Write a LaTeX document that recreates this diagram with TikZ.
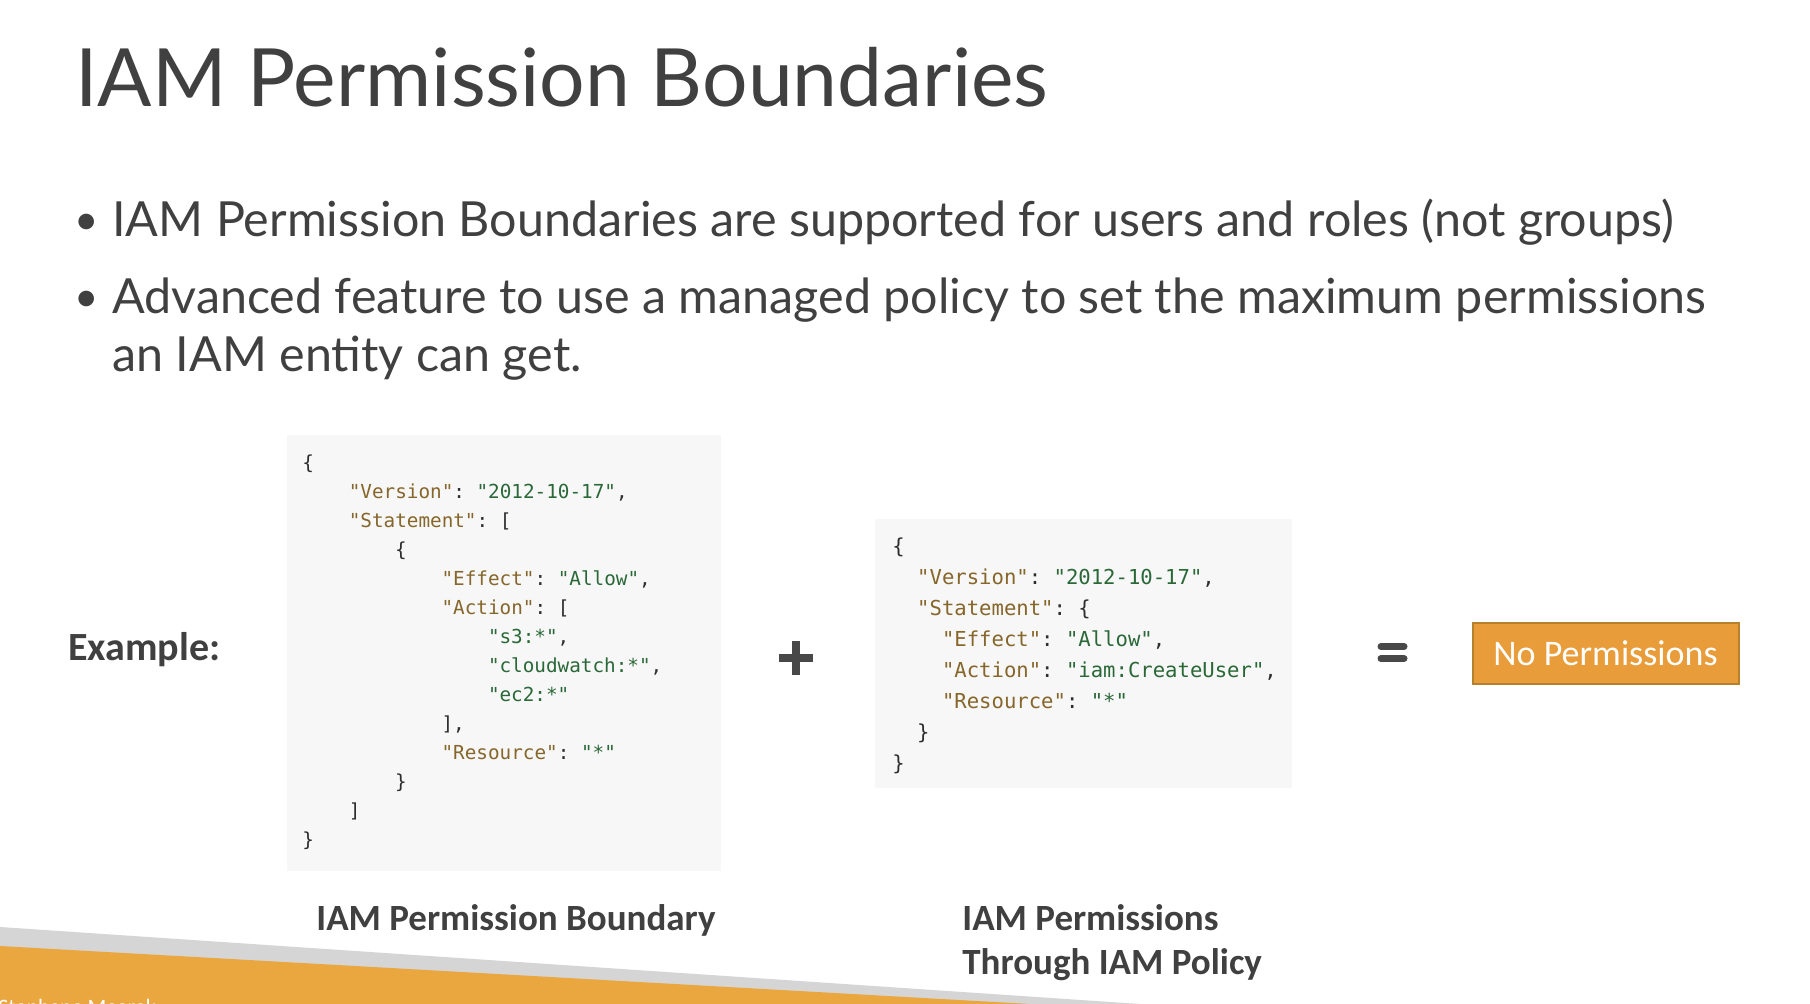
\documentclass[tikz,border=0pt]{standalone}
\usepackage{fontspec}
\setmainfont{Lato}
\setmonofont{DejaVu Sans Mono}
\newfontfamily\calibri{Carlito}
\usepackage{xcolor}
\usepackage{tikz}
\usetikzlibrary{positioning}

\definecolor{slidetext}{HTML}{404040}
\definecolor{codebg}{HTML}{F7F7F7}
\definecolor{jsonkey}{HTML}{86662A}
\definecolor{jsonstr}{HTML}{2A6838}
\definecolor{jsonpunct}{HTML}{2E2E2E}
\definecolor{boxorange}{HTML}{E99D3A}
\definecolor{boxedge}{HTML}{B5812C}
\definecolor{footorange}{HTML}{EAA73F}
\definecolor{footgray}{HTML}{D5D5D5}
\definecolor{signgray}{HTML}{484848}

\newcommand{\jk}[1]{\textcolor{jsonkey}{"#1"}}
\newcommand{\js}[1]{\textcolor{jsonstr}{"#1"}}

\begin{document}
\begin{tikzpicture}[x=0.5pt, y=-0.5pt,
        slidetitle/.style={anchor=base west, inner sep=0pt, text=slidetext, font=\fontsize{40.2}{48}\selectfont},
        bullettext/.style={anchor=base west, inner sep=0pt, text=slidetext, font=\fontsize{24.2}{29}\selectfont},
        codeA/.style={anchor=base west, inner sep=0pt, text=jsonpunct, font=\ttfamily\frenchspacing\fontsize{9.65}{12}\selectfont},
        codeB/.style={codeA, font=\ttfamily\frenchspacing\fontsize{10.3}{12}\selectfont},
        caplabel/.style={anchor=base west, inner sep=0pt, text=slidetext, font=\calibri\bfseries\fontsize{18.5}{22}\selectfont},
        sign/.style={draw=signgray, line width=4pt}]
    \useasboundingbox (0,0) rectangle (1810,1004);
    \clip (0,0) rectangle (1810,1004);
    \fill[white] (0,0) rectangle (1810,1004);

    % title and bullets
    \node[slidetitle] (title) at (75,107) {IAM Permission Boundaries};
    \node[bullettext, font=\fontsize{21}{25}\selectfont] (dot1) at (74,235) {•};
    \node[bullettext] (b1) at (112,237) {IAM Permission Boundaries are supported for users and roles (not groups)};
    \node[bullettext, font=\fontsize{21}{25}\selectfont] (dot2) at (74,312) {•};
    \node[bullettext] (b2) at (112,314) {Advanced feature to use a managed policy to set the maximum permissions};
    \node[bullettext, below=29pt of b2.base west, anchor=base west] (b2b) {an IAM entity can get.};

    \node[caplabel, font=\calibri\bfseries\fontsize{20}{24}\selectfont] (example) at (68,661) {Example:};

    % permission boundary
    \fill[codebg] (287,435) rectangle (721,871);
    \foreach \ind/\txt [count=\i from 0] in {
        0/{\{},
        4/{\jk{Version}: \js{2012-10-17},},
        4/{\jk{Statement}: [},
        8/{\{},
        12/{\jk{Effect}: \js{Allow},},
        12/{\jk{Action}: [},
        16/{\js{s3:*},},
        16/{\js{cloudwatch:*},},
        16/{\js{ec2:*}},
        12/{],},
        12/{\jk{Resource}: \js{*}},
        8/{\}},
        4/{]},
        0/{\}}}
        \node[codeA] (bnd-\i) at (302+11.6*\ind, 470+29*\i) {\txt};

    % identity policy
    \fill[codebg] (875,519) rectangle (1292,788);
    \foreach \ind/\txt [count=\i from 0] in {
        0/{\{},
        2/{\jk{Version}: \js{2012-10-17},},
        2/{\jk{Statement}: \{},
        4/{\jk{Effect}: \js{Allow},},
        4/{\jk{Action}: \js{iam:CreateUser},},
        4/{\jk{Resource}: \js{*}},
        2/{\}},
        0/{\}}}
        \node[codeB] (pol-\i) at (892+12.4*\ind, 554+31*\i) {\txt};

    % plus, equals, result
    \draw[sign] (779,658) -- (813,658) (796,641) -- (796,675);
    \draw[sign, line width=3.5pt, line cap=round] (1381,646.5) -- (1404,646.5) (1381,658.5) -- (1404,658.5);
    \node[draw=boxedge, fill=boxorange, line width=1pt, minimum width=133pt, minimum height=30.5pt,
        text=white, font=\calibri\fontsize{18}{22}\selectfont] (noperm) at (1605.5,653.5) {No Permissions};

    \node[caplabel] (bndlabel) at (316,930) {IAM Permission Boundary};
    \node[caplabel] (pollabel) at (962,930) {IAM Permissions};
    \node[caplabel, below=22pt of pollabel.base west, anchor=base west] (pollabel2) {Through IAM Policy};

    % footer
    \fill[footgray] (0,927) -- (1140,1004) -- (0,1004) -- cycle;
    \fill[footorange] (0,946) -- (1030,1004) -- (0,1004) -- cycle;
    \node[anchor=base west, inner sep=0pt, text=white, font=\calibri\fontsize{11}{13}\selectfont] (author) at (-2,1014) {Stephane Maarek};
\end{tikzpicture}
\end{document}
